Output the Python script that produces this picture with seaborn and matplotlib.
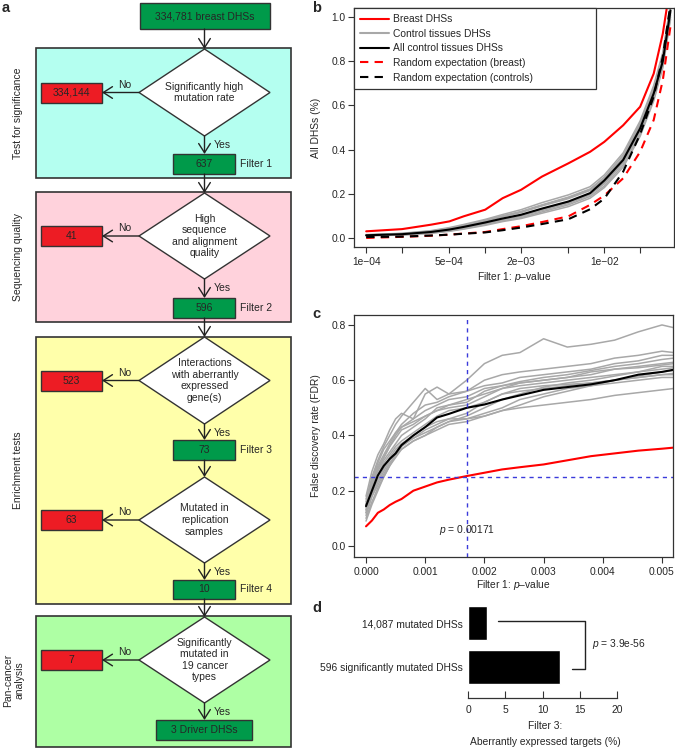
import matplotlib.pyplot as plt
import numpy as np
import pandas as pd
import seaborn as sns
from matplotlib.lines import Line2D
from matplotlib.patches import Rectangle, Polygon
from matplotlib.ticker import NullLocator

# ---------------- data ----------------
# panel a: flowchart
start_label = "334,781 breast DHSs"
stage_names = ["Test for significance", "Sequencing quality", "Enrichment tests", "Pan-cancer\nanalysis"]
questions = ["Significantly high\nmutation rate",
             "High\nsequence\nand alignment\nquality",
             "Interactions\nwith aberrantly\nexpressed\ngene(s)",
             "Mutated in\nreplication\nsamples",
             "Significantly\nmutated in\n19 cancer\ntypes"]
removed = ["334,144", "41", "523", "63", "7"]
kept = ["637", "596", "73", "10", "3 Driver DHSs"]
filter_names = ["Filter 1", "Filter 2", "Filter 3", "Filter 4", ""]

# panel b: cumulative fraction of DHSs vs filter-1 p-value
p_b = [1e-4, 2e-4, 3.5e-4, 5e-4, 6.6e-4, 1e-3, 1.4e-3, 2e-3, 3e-3, 5e-3, 7.6e-3,
       1e-2, 1.44e-2, 2e-2, 2.6e-2, 3.1e-2, 3.6e-2]
breast_b = [0.030, 0.040, 0.060, 0.075, 0.098, 0.128, 0.180, 0.218, 0.278, 0.338, 0.390,
            0.435, 0.510, 0.594, 0.744, 0.925, 1.15]
all_ctrl_b = [0.012, 0.017, 0.027, 0.038, 0.050, 0.070, 0.088, 0.105, 0.133, 0.165, 0.203,
              0.260, 0.353, 0.496, 0.654, 0.800, 1.03]
rand_breast_b = [0.000, 0.005, 0.010, 0.015, 0.020, 0.027, 0.040, 0.053, 0.072, 0.098, 0.150,
                 0.192, 0.270, 0.390, 0.534, 0.714, 0.96]
rand_ctrl_b = [0.004, 0.006, 0.011, 0.015, 0.019, 0.025, 0.035, 0.047, 0.063, 0.085, 0.130,
               0.178, 0.300, 0.470, 0.640, 0.820, 1.06]
ctrl_tissues_b = [
    [0.010, 0.014, 0.022, 0.032, 0.042, 0.060, 0.078, 0.092, 0.118, 0.150, 0.188, 0.235, 0.330, 0.470, 0.630, 0.780, 1.00],
    [0.014, 0.020, 0.031, 0.044, 0.058, 0.080, 0.100, 0.120, 0.150, 0.185, 0.222, 0.275, 0.375, 0.520, 0.680, 0.830, 1.05],
    [0.012, 0.018, 0.029, 0.040, 0.054, 0.075, 0.096, 0.115, 0.145, 0.178, 0.215, 0.262, 0.360, 0.505, 0.665, 0.815, 1.04],
    [0.011, 0.015, 0.024, 0.034, 0.045, 0.064, 0.082, 0.098, 0.124, 0.156, 0.195, 0.245, 0.340, 0.482, 0.640, 0.790, 1.01],
    [0.015, 0.021, 0.033, 0.047, 0.061, 0.084, 0.106, 0.128, 0.160, 0.195, 0.232, 0.285, 0.385, 0.530, 0.690, 0.840, 1.06],
    [0.012, 0.016, 0.026, 0.037, 0.048, 0.068, 0.086, 0.104, 0.130, 0.162, 0.200, 0.250, 0.345, 0.490, 0.650, 0.800, 1.02],
    [0.013, 0.019, 0.030, 0.042, 0.056, 0.078, 0.098, 0.118, 0.148, 0.182, 0.218, 0.268, 0.365, 0.512, 0.672, 0.822, 1.045],
    [0.010, 0.013, 0.021, 0.030, 0.040, 0.057, 0.074, 0.088, 0.112, 0.142, 0.180, 0.228, 0.320, 0.460, 0.620, 0.770, 0.99],
]
xticks_b = [1e-4, 2e-4, 5e-4, 1e-3, 2e-3, 5e-3, 1e-2, 2e-2]
xticklabels_b = ["1e\u221204", "", "5e\u221204", "", "2e\u221203", "", "1e\u221202", ""]

# panel c: FDR vs filter-1 p-value
p_c = [0, 0.0001, 0.0002, 0.0003, 0.0004, 0.0005, 0.0006, 0.0008, 0.001, 0.0012, 0.0014,
       0.0017, 0.002, 0.0023, 0.0026, 0.003, 0.0034, 0.0038, 0.0042, 0.0046, 0.005, 0.0052]
breast_c = [0.071, 0.092, 0.120, 0.132, 0.148, 0.160, 0.170, 0.200, 0.215, 0.230, 0.240,
            0.253, 0.265, 0.277, 0.285, 0.295, 0.310, 0.325, 0.335, 0.345, 0.352, 0.356]
all_ctrl_c = [0.144, 0.200, 0.255, 0.290, 0.315, 0.335, 0.365, 0.400, 0.430, 0.465, 0.478,
              0.500, 0.512, 0.530, 0.545, 0.565, 0.575, 0.585, 0.600, 0.620, 0.630, 0.638]
ctrl_tissues_c = [
    [0.18, 0.27, 0.33, 0.37, 0.42, 0.46, 0.48, 0.46, 0.55, 0.575, 0.55, 0.60, 0.66, 0.69, 0.70, 0.75, 0.72, 0.73, 0.745, 0.775, 0.80, 0.79],
    [0.16, 0.25, 0.31, 0.36, 0.40, 0.44, 0.47, 0.52, 0.57, 0.53, 0.55, 0.56, 0.60, 0.62, 0.63, 0.64, 0.65, 0.66, 0.68, 0.69, 0.705, 0.70],
    [0.15, 0.23, 0.29, 0.33, 0.37, 0.41, 0.44, 0.48, 0.51, 0.52, 0.54, 0.56, 0.58, 0.59, 0.61, 0.62, 0.63, 0.64, 0.66, 0.67, 0.69, 0.69],
    [0.10, 0.16, 0.21, 0.25, 0.29, 0.32, 0.35, 0.38, 0.40, 0.42, 0.44, 0.45, 0.47, 0.49, 0.50, 0.51, 0.52, 0.53, 0.545, 0.555, 0.565, 0.57],
    [0.12, 0.19, 0.24, 0.28, 0.32, 0.35, 0.37, 0.40, 0.43, 0.45, 0.46, 0.46, 0.48, 0.50, 0.53, 0.55, 0.57, 0.58, 0.59, 0.60, 0.61, 0.61],
    [0.09, 0.15, 0.20, 0.25, 0.29, 0.33, 0.36, 0.39, 0.42, 0.44, 0.46, 0.48, 0.52, 0.55, 0.56, 0.57, 0.58, 0.59, 0.60, 0.61, 0.62, 0.62],
    [0.14, 0.22, 0.27, 0.31, 0.34, 0.37, 0.40, 0.43, 0.46, 0.50, 0.51, 0.53, 0.55, 0.57, 0.58, 0.59, 0.60, 0.61, 0.62, 0.63, 0.64, 0.645],
    [0.13, 0.21, 0.28, 0.32, 0.36, 0.39, 0.42, 0.44, 0.47, 0.49, 0.50, 0.51, 0.54, 0.57, 0.59, 0.60, 0.61, 0.62, 0.64, 0.65, 0.66, 0.665],
    [0.17, 0.24, 0.30, 0.35, 0.38, 0.41, 0.43, 0.45, 0.47, 0.49, 0.51, 0.52, 0.56, 0.58, 0.595, 0.61, 0.62, 0.635, 0.65, 0.66, 0.675, 0.68],
    [0.11, 0.18, 0.23, 0.27, 0.31, 0.34, 0.37, 0.39, 0.41, 0.43, 0.45, 0.47, 0.50, 0.53, 0.55, 0.575, 0.59, 0.60, 0.615, 0.63, 0.65, 0.65],
    [0.13, 0.20, 0.26, 0.30, 0.33, 0.36, 0.38, 0.41, 0.44, 0.47, 0.49, 0.50, 0.52, 0.55, 0.57, 0.58, 0.585, 0.59, 0.60, 0.61, 0.62, 0.625],
    [0.15, 0.22, 0.28, 0.32, 0.36, 0.40, 0.43, 0.46, 0.49, 0.51, 0.53, 0.54, 0.57, 0.58, 0.59, 0.60, 0.61, 0.63, 0.64, 0.645, 0.655, 0.66],
    [0.12, 0.18, 0.22, 0.26, 0.30, 0.33, 0.35, 0.38, 0.40, 0.43, 0.45, 0.46, 0.47, 0.49, 0.51, 0.54, 0.56, 0.58, 0.60, 0.615, 0.63, 0.635],
]
p_cut = 0.00171
fdr_cut = 0.25

# panel d: aberrantly expressed targets
d_labels = ["14,087 mutated DHSs", "596 significantly mutated DHSs"]
d_values = [2.6, 12.4]
d_pvalue = "3.9e-56"

# ---------------- style ----------------
sns.set_theme(style="ticks")
plt.rcParams["font.family"] = ["Liberation Sans", "DejaVu Sans"]
plt.rcParams["mathtext.fontset"] = "custom"
plt.rcParams["mathtext.it"] = "Liberation Sans:italic"
plt.rcParams["mathtext.rm"] = "Liberation Sans"
FS = 7.4
FA = 7.5  # flowchart text
RED = "#ff0000"
GRAY = "#a8a8a8"
BLUE = "#3b3bdb"
EDGE = "#333333"

fig = plt.figure(figsize=(6.75, 7.48), dpi=100)

# ---------------- panel a (pixel coordinates) ----------------
bg = fig.add_axes([0, 0, 1, 1])
bg.set_xlim(0, 675)
bg.set_ylim(748, 0)
bg.axis("off")

stage_boxes = [(48, 178, "#b4fff0"), (192, 322, "#ffd2dc"), (337, 604, "#ffffaa"), (616, 747, "#aeffa4")]
stage_label_pos = [(18, 113), (18, 257), (18, 470), (14, 680)]
diamonds = [(49, 136), (193, 279), (337, 424), (477, 563), (617, 703)]
kept_y = [(154, 174), (298, 318), (440, 460), (580, 599), (720, 740)]
cx = 204.5
box_green = "#009a4a"
box_red = "#ed1c24"


def arrow(x0, y0, x1, y1):
    bg.annotate("", xy=(x1, y1), xytext=(x0, y0),
                arrowprops=dict(arrowstyle="->,head_length=0.55,head_width=0.35",
                                lw=1.0, color="#222222", shrinkA=0, shrinkB=0,
                                mutation_scale=12))


for (y0, y1, col), name, (lx, ly) in zip(stage_boxes, stage_names, stage_label_pos):
    bg.add_patch(Rectangle((36, y0), 255, y1 - y0, fc=col, ec=EDGE, lw=1.2))
    bg.text(lx, ly, name, rotation=90, ha="center", va="center", fontsize=FA, linespacing=1.1)

bg.add_patch(Rectangle((140, 3), 130, 26, fc=box_green, ec=EDGE, lw=1.0))
bg.text(cx, 16, start_label, ha="center", va="center", fontsize=FA)
arrow(cx, 29, cx, diamonds[0][0])

for i, ((top, bot), q, r, k, f) in enumerate(zip(diamonds, questions, removed, kept, filter_names)):
    cy = (top + bot) / 2
    bg.add_patch(Polygon([(cx, top), (270, cy), (cx, bot), (139, cy)], closed=True,
                         fc="white", ec=EDGE, lw=1.0))
    bg.text(cx, cy, q, ha="center", va="center", fontsize=FA, linespacing=1.2)
    # rejected branch
    bg.add_patch(Rectangle((41, cy - 10), 61, 20, fc=box_red, ec=EDGE, lw=1.0))
    bg.text(71.5, cy, r, ha="center", va="center", fontsize=FA)
    arrow(139, cy, 102, cy)
    bg.text(125, cy - 8, "No", ha="center", va="center", fontsize=FA)
    # accepted branch
    ky0, ky1 = kept_y[i]
    if i < 4:
        bg.add_patch(Rectangle((173, ky0), 62, ky1 - ky0, fc=box_green, ec=EDGE, lw=1.0))
    else:
        bg.add_patch(Rectangle((156, ky0), 96, ky1 - ky0, fc=box_green, ec=EDGE, lw=1.0))
    bg.text(cx, (ky0 + ky1) / 2, k, ha="center", va="center", fontsize=FA)
    if f:
        bg.text(240, (ky0 + ky1) / 2, f, ha="left", va="center", fontsize=FA)
    arrow(cx, bot, cx, ky0)
    bg.text(222, bot + 9, "Yes", ha="center", va="center", fontsize=FA)
    if i < 4:
        arrow(cx, ky1, cx, diamonds[i + 1][0])

for lab, (x, y) in zip("abcd", [(2, 8), (312, 8), (312, 314), (312, 608)]):
    bg.text(x, y, lab, ha="left", va="center", fontsize=10.5, fontweight="bold")


def frame(ax):
    for s in ax.spines.values():
        s.set_visible(True)
        s.set_color(EDGE)
        s.set_linewidth(0.9)
    ax.tick_params(axis="both", labelsize=FS, length=4, width=0.8, color=EDGE, pad=2)
    ax.tick_params(axis="x", pad=3)


# ---------------- panel b ----------------
ax_b = fig.add_axes([354 / 675, (748 - 247) / 748, 320 / 675, 239 / 748])
gray_b = pd.DataFrame({
    "p": np.tile(p_b, len(ctrl_tissues_b)),
    "frac": np.concatenate(ctrl_tissues_b),
    "tissue": np.repeat(np.arange(len(ctrl_tissues_b)), len(p_b)),
})
sns.lineplot(data=gray_b, x="p", y="frac", units="tissue", estimator=None,
             color=GRAY, lw=1.1, ax=ax_b)
sns.lineplot(x=p_b, y=all_ctrl_b, color="black", lw=1.5, ax=ax_b)
sns.lineplot(x=p_b, y=rand_breast_b, color=RED, lw=1.5, linestyle=(0, (4, 3)), ax=ax_b)
sns.lineplot(x=p_b, y=rand_ctrl_b, color="black", lw=1.5, linestyle=(0, (4, 3)), ax=ax_b)
sns.lineplot(x=p_b, y=breast_b, color=RED, lw=1.5, ax=ax_b)
ax_b.set_xscale("log")
ax_b.set_xlim(7.9e-5, 0.0385)
ax_b.set_ylim(-0.041, 1.041)
ax_b.set_xticks(xticks_b)
ax_b.set_xticklabels(xticklabels_b)
ax_b.xaxis.set_minor_locator(NullLocator())
ax_b.set_yticks([0, 0.2, 0.4, 0.6, 0.8, 1.0])
ax_b.set_yticklabels(["0.0", "0.2", "0.4", "0.6", "0.8", "1.0"])
frame(ax_b)
ax_b.set_xlabel("Filter 1: $p$\u2013value", fontsize=FS)
ax_b.set_ylabel("All DHSs (%)", fontsize=FS)
ax_b.xaxis.label.set_va("center")
ax_b.xaxis.set_label_coords(0.5, -(277 - 247) / 239)
ax_b.yaxis.label.set(va="center", ha="center")
ax_b.yaxis.set_label_coords(-(354 - 316) / 320, 0.5)
handles = [Line2D([], [], color=RED, lw=1.5),
           Line2D([], [], color=GRAY, lw=1.5),
           Line2D([], [], color="black", lw=1.5),
           Line2D([], [], color=RED, lw=1.5, ls=(0, (4, 3))),
           Line2D([], [], color="black", lw=1.5, ls=(0, (4, 3)))]
labels = ["Breast DHSs", "Control tissues DHSs", "All control tissues DHSs",
          "Random expectation (breast)", "Random expectation (controls)"]
leg = ax_b.legend(handles, labels, loc="upper left", bbox_to_anchor=(0, 0, 242 / 320, 1),
                  mode="expand", borderaxespad=0, fancybox=False, framealpha=1,
                  edgecolor=EDGE, fontsize=FS, handlelength=2.8, handletextpad=0.4,
                  labelspacing=0.45, borderpad=0.6)
leg.get_frame().set_linewidth(0.9)

# ---------------- panel c ----------------
ax_c = fig.add_axes([354 / 675, (748 - 557) / 748, 319 / 675, 242 / 748])
gray_c = pd.DataFrame({
    "p": np.tile(p_c, len(ctrl_tissues_c)),
    "fdr": np.concatenate(ctrl_tissues_c),
    "tissue": np.repeat(np.arange(len(ctrl_tissues_c)), len(p_c)),
})
sns.lineplot(data=gray_c, x="p", y="fdr", units="tissue", estimator=None,
             color=GRAY, lw=1.1, ax=ax_c)
sns.lineplot(x=p_c, y=all_ctrl_c, color="black", lw=1.5, ax=ax_c)
sns.lineplot(x=p_c, y=breast_c, color=RED, lw=1.5, ax=ax_c)
ax_c.axvline(p_cut, color=BLUE, lw=1.0, ls=(0, (3, 3)))
ax_c.axhline(fdr_cut, color=BLUE, lw=1.0, ls=(0, (3, 3)))
ax_c.text(p_cut, 0.058, f"$p$ = {p_cut}", ha="center", va="center", fontsize=FS)
ax_c.set_xlim(-0.000203, 0.005186)
ax_c.set_ylim(-0.04, 0.836)
ax_c.set_xticks([0, 0.001, 0.002, 0.003, 0.004, 0.005])
ax_c.set_xticklabels(["0.000", "0.001", "0.002", "0.003", "0.004", "0.005"])
ax_c.set_yticks([0, 0.2, 0.4, 0.6, 0.8])
ax_c.set_yticklabels(["0.0", "0.2", "0.4", "0.6", "0.8"])
frame(ax_c)
ax_c.set_xlabel("Filter 1: $p$\u2013value", fontsize=FS)
ax_c.set_ylabel("False discovery rate (FDR)", fontsize=FS)
ax_c.xaxis.label.set_va("center")
ax_c.xaxis.set_label_coords(0.5, -(585 - 557) / 242)
ax_c.yaxis.label.set(va="center", ha="center")
ax_c.yaxis.set_label_coords(-(354 - 316) / 319, 0.5)

# ---------------- panel d ----------------
ax_d = fig.add_axes([468 / 675, (748 - 698) / 748, 149 / 675, 95 / 748])
sns.barplot(x=d_values, y=d_labels, orient="h", color="black", saturation=1,
            width=0.77, ax=ax_d)
ax_d.set_xlim(0, 20)
ax_d.set_ylim(1.705, -0.455)
ax_d.set_xticks([0, 5, 10, 15, 20])
for s in ["top", "right", "left"]:
    ax_d.spines[s].set_visible(False)
ax_d.spines["bottom"].set_color(EDGE)
ax_d.spines["bottom"].set_linewidth(0.9)
ax_d.tick_params(axis="x", direction="in", length=5, width=0.8, color=EDGE, labelsize=FS, pad=5)
ax_d.tick_params(axis="y", length=0, labelsize=FS, pad=4)
ax_d.set_xlabel("Filter 3:\nAberrantly expressed targets (%)", fontsize=FS, linespacing=1.75)
ax_d.xaxis.label.set_va("center")
ax_d.xaxis.set_label_coords(0.52, -(734 - 698) / 95)
ax_d.set_ylabel("")
ax_d.plot([4.0, 15.7, 15.7, 14.0], [-0.045, -0.045, 1.045, 1.045], color="#222222",
          lw=1.0, clip_on=False)
ax_d.text(16.6, 0.477, f"$p$ = {d_pvalue}", ha="left", va="center", fontsize=FS)

fig.savefig("out.png", dpi=100)
